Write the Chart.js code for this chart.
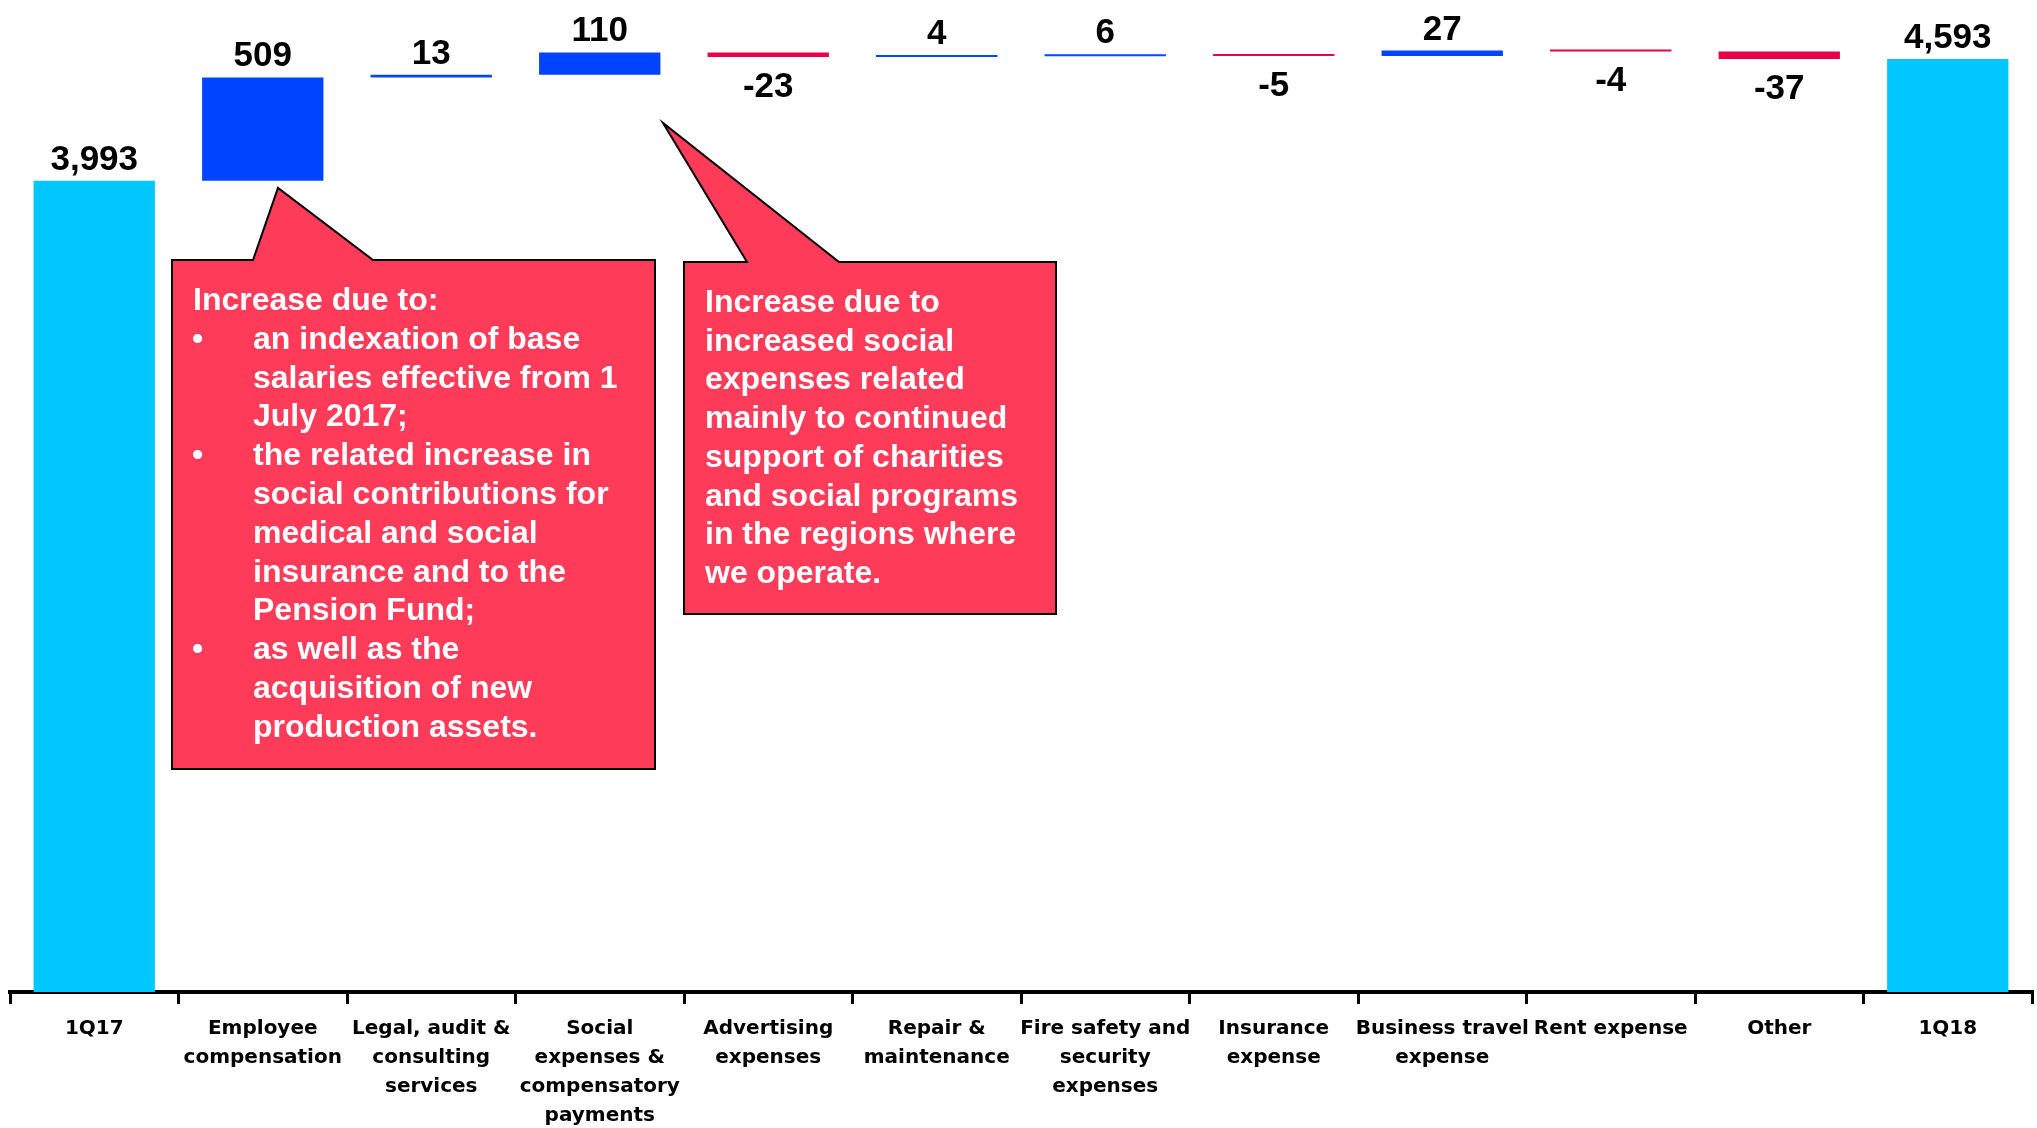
<!DOCTYPE html>
<html>
<head>
<meta charset="utf-8">
<script src="https://cdn.jsdelivr.net/npm/chart.js@4.4.1/dist/chart.umd.min.js"></script>
<style>
    html, body { margin: 0; padding: 0; background: #ffffff; }
    #wrap { width: 2037px; height: 1128px; position: relative; }
</style>
</head>
<body>
<div id="wrap"><canvas id="waterfallChart"></canvas></div>
<script>
// --- DATA ---
const categories = [
    '1Q17',
    ['Employee', 'compensation'],
    ['Legal, audit &', 'consulting', 'services'],
    ['Social', 'expenses &', 'compensatory', 'payments'],
    ['Advertising', 'expenses'],
    ['Repair &', 'maintenance'],
    ['Fire safety and', 'security', 'expenses'],
    ['Insurance', 'expense'],
    ['Business travel', 'expense'],
    'Rent expense',
    'Other',
    '1Q18'
];
const barValues = [3993, 509, 13, 110, -23, 4, 6, -5, 27, -4, -37, 4593];
const barIsTotal = [true, false, false, false, false, false, false, false, false, false, false, true];

const calloutEmployee = [
    { bullet: false, text: 'Increase due to:' },
    { bullet: true,  text: 'an indexation of base' },
    { bullet: false, text: 'salaries effective from 1', indent: true },
    { bullet: false, text: 'July 2017;', indent: true },
    { bullet: true,  text: 'the related increase in' },
    { bullet: false, text: 'social contributions for', indent: true },
    { bullet: false, text: 'medical and social', indent: true },
    { bullet: false, text: 'insurance and to the', indent: true },
    { bullet: false, text: 'Pension Fund;', indent: true },
    { bullet: true,  text: 'as well as the' },
    { bullet: false, text: 'acquisition of new', indent: true },
    { bullet: false, text: 'production assets.', indent: true }
];
const calloutSocial = [
    'Increase due to',
    'increased social',
    'expenses related',
    'mainly to continued',
    'support of charities',
    'and social programs',
    'in the regions where',
    'we operate.'
];

// --- COLORS ---
const colorTotal = '#00C8FF';
const colorUp = '#0044FF';
const colorDown = '#E8004A';
const colorCallout = '#FF3B5A';

// floating bars [from, to] for the waterfall
let running = 0;
const floatingBars = barValues.map((v, i) => {
    if (barIsTotal[i]) { running = v; return [0, v]; }
    const from = running;
    running += v;
    return [from, running];
});
const barColors = barValues.map((v, i) => barIsTotal[i] ? colorTotal : (v >= 0 ? colorUp : colorDown));

// value labels above (positive) or below (negative) each bar
const valueLabels = {
    id: 'valueLabels',
    afterDatasetsDraw(chart) {
        const ctx = chart.ctx;
        const meta = chart.getDatasetMeta(0);
        ctx.save();
        ctx.font = 'bold 35px "Liberation Sans", Arial, sans-serif';
        ctx.fillStyle = '#000';
        ctx.textAlign = 'center';
        ctx.textBaseline = 'alphabetic';
        meta.data.forEach((bar, i) => {
            const v = barValues[i];
            const top = Math.min(bar.y, bar.base);
            const bottom = Math.max(bar.y, bar.base);
            const text = v.toLocaleString('en-US');
            if (v >= 0) ctx.fillText(text, bar.x, top - 11);
            else ctx.fillText(text, bar.x, bottom + 40);
        });
        ctx.restore();
    }
};

// speech-bubble callouts
function drawBubble(ctx, box, tip, baseL, baseR) {
    ctx.beginPath();
    ctx.moveTo(box.x0, box.y0);
    ctx.lineTo(baseL, box.y0);
    ctx.lineTo(tip.x, tip.y);
    ctx.lineTo(baseR, box.y0);
    ctx.lineTo(box.x1, box.y0);
    ctx.lineTo(box.x1, box.y1);
    ctx.lineTo(box.x0, box.y1);
    ctx.closePath();
    ctx.fillStyle = colorCallout;
    ctx.fill();
    ctx.lineWidth = 2;
    ctx.strokeStyle = '#000';
    ctx.stroke();
}

const callouts = {
    id: 'callouts',
    afterDraw(chart) {
        const ctx = chart.ctx;
        ctx.save();
        drawBubble(ctx, { x0: 172, y0: 260, x1: 655, y1: 769 }, { x: 278, y: 188 }, 253, 373);
        drawBubble(ctx, { x0: 684, y0: 262, x1: 1056, y1: 614 }, { x: 663, y: 123 }, 747, 839);

        ctx.fillStyle = '#fff';
        ctx.font = 'bold 32px "Liberation Sans", Arial, sans-serif';
        ctx.textAlign = 'left';
        ctx.textBaseline = 'alphabetic';
        calloutEmployee.forEach((line, i) => {
            const y = 310 + i * 38.8;
            if (line.bullet) {
                ctx.fillText('\u2022', 192, y);
                ctx.fillText(line.text, 253, y);
            } else {
                ctx.fillText(line.text, line.indent ? 253 : 193, y);
            }
        });
        calloutSocial.forEach((text, i) => {
            ctx.fillText(text, 705, 312 + i * 38.7);
        });
        ctx.restore();
    }
};

const ctxBar = document.getElementById('waterfallChart');
new Chart(ctxBar, {
    type: 'bar',
    data: {
        labels: categories,
        datasets: [{
            data: floatingBars,
            backgroundColor: barColors,
            borderWidth: 0,
            barPercentage: 0.72,
            categoryPercentage: 1.0,
            minBarLength: 2
        }]
    },
    options: {
        responsive: true,
        maintainAspectRatio: false,
        animation: false,
        devicePixelRatio: 1,
        layout: { padding: { left: 10, right: 5, top: 0, bottom: 0 } },
        plugins: {
            legend: { display: false },
            tooltip: { enabled: false }
        },
        scales: {
            x: {
                grid: {
                    offset: true,
                    drawOnChartArea: false,
                    drawTicks: true,
                    tickLength: 12,
                    color: '#000',
                    lineWidth: 3
                },
                border: { display: true, color: '#000', width: 4 },
                ticks: {
                    color: '#000',
                    font: { family: '"DejaVu Sans", sans-serif', weight: 'bold', size: 20, lineHeight: 1.45 },
                    maxRotation: 0,
                    minRotation: 0,
                    autoSkip: false,
                    padding: 10
                },
                afterFit(scale) { scale.height = 136; }
            },
            y: {
                display: false,
                min: 0,
                max: 4883
            }
        }
    },
    plugins: [valueLabels, callouts]
});
</script>
</body>
</html>
